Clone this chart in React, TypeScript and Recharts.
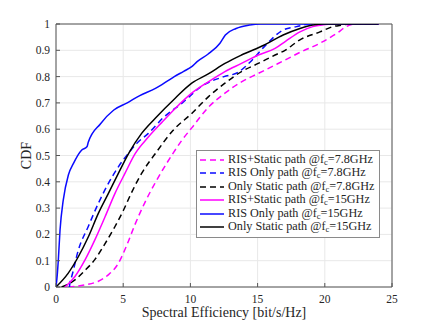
import React from 'react';
import { LineChart, Line, XAxis, YAxis, CartesianGrid, ReferenceArea, Legend } from 'recharts';

const xTicks = [0, 5, 10, 15, 20, 25];
const yTicks = [0, 0.1, 0.2, 0.3, 0.4, 0.5, 0.6, 0.7, 0.8, 0.9, 1];

// RIS+Static path @ 7.8GHz (magenta dashed)
const risStatic78X = [0.92, 2.16, 3.15, 3.89, 4.64, 5.26, 5.88, 6.62, 7.37, 8.11, 8.73, 9.35, 10.1, 11.33, 12.57, 13.8, 15.05, 16.3, 17.04, 18.15, 19.64, 20.9, 21.6, 22.3, 24];
const risStatic78Y = [0, 0.008, 0.022, 0.046, 0.09, 0.158, 0.238, 0.322, 0.395, 0.46, 0.51, 0.557, 0.605, 0.683, 0.737, 0.78, 0.812, 0.844, 0.863, 0.892, 0.927, 0.965, 0.99, 1, 1];

// RIS Only path @ 7.8GHz (blue dashed)
const risOnly78X = [1.0, 1.05, 1.17, 1.66, 2.4, 3.15, 3.9, 4.64, 5.38, 6.0, 6.87, 8.0, 9.4, 10.8, 12.5, 13.5, 14.6, 15.5, 16.9, 17.9, 18.9, 24];
const risOnly78Y = [0, 0.02, 0.04, 0.14, 0.23, 0.318, 0.394, 0.457, 0.508, 0.546, 0.584, 0.645, 0.7, 0.762, 0.8, 0.815, 0.863, 0.914, 0.977, 0.99, 1, 1];

// Only Static path @ 7.8GHz (black dashed)
const static78X = [0.42, 1.41, 2.16, 2.9, 3.65, 4.39, 5.0, 5.63, 6.37, 7.4, 8.7, 10.1, 11.33, 12.57, 13.8, 15.05, 16.3, 17.04, 18.15, 19.64, 20.6, 21.26, 21.8, 24];
const static78Y = [0, 0.027, 0.063, 0.105, 0.165, 0.23, 0.29, 0.36, 0.432, 0.508, 0.595, 0.66, 0.723, 0.775, 0.819, 0.85, 0.882, 0.9, 0.94, 0.97, 0.99, 0.996, 1, 1];

// RIS+Static path @ 15GHz (magenta solid)
const risStatic15X = [0.67, 1.41, 2.16, 2.9, 3.65, 4.39, 5.13, 5.9, 6.87, 7.86, 8.85, 10.1, 11.33, 12.57, 13.8, 15.05, 16.3, 17.1, 18.15, 19.1, 19.9, 20.5, 24];
const risStatic15Y = [0, 0.04, 0.103, 0.18, 0.267, 0.356, 0.432, 0.508, 0.57, 0.625, 0.678, 0.737, 0.78, 0.819, 0.85, 0.882, 0.907, 0.935, 0.97, 0.99, 0.997, 1, 1];

// RIS Only path @ 15GHz (blue solid)
const risOnly15X = [0, 0.1, 0.17, 0.3, 0.54, 0.92, 1.3, 1.9, 2.3, 2.4, 3.3, 4.3, 5.3, 6.2, 7.4, 8.4, 8.8, 9.5, 10.1, 10.5, 11.3, 12.2, 12.6, 13.4, 14.4, 15.2, 24];
const risOnly15Y = [0, 0.05, 0.1, 0.217, 0.33, 0.426, 0.47, 0.52, 0.533, 0.55, 0.62, 0.673, 0.7, 0.727, 0.755, 0.787, 0.8, 0.82, 0.838, 0.857, 0.885, 0.927, 0.958, 0.983, 0.996, 1, 1];

// Only Static path @ 15GHz (black solid)
const static15X = [0, 0.9, 1.66, 2.4, 3.15, 3.9, 4.64, 5.45, 6.37, 7.37, 8.85, 10.1, 11.33, 12.57, 13.8, 15.5, 16.9, 18.15, 19.1, 19.9, 24];
const static15Y = [0, 0.052, 0.115, 0.19, 0.28, 0.356, 0.432, 0.512, 0.584, 0.641, 0.717, 0.775, 0.81, 0.85, 0.882, 0.92, 0.958, 0.983, 0.996, 1, 1];

const seriesNames = ['RIS+Static path', 'RIS Only path', 'Only Static path', 'RIS+Static path', 'RIS Only path', 'Only Static path'];
const seriesFreqs = ['7.8GHz', '7.8GHz', '7.8GHz', '15GHz', '15GHz', '15GHz'];

const zip = (xs: number[], ys: number[]) => xs.map((x, i) => ({ x, y: ys[i] }));

const series = [
  { key: 'a', color: '#ff00ff', dash: '6 4', data: zip(risStatic78X, risStatic78Y) },
  { key: 'b', color: '#0a0aff', dash: '6 4', data: zip(risOnly78X, risOnly78Y) },
  { key: 'c', color: '#000000', dash: '6 4', data: zip(static78X, static78Y) },
  { key: 'd', color: '#ff00ff', dash: undefined, data: zip(risStatic15X, risStatic15Y) },
  { key: 'e', color: '#0a0aff', dash: undefined, data: zip(risOnly15X, risOnly15Y) },
  { key: 'f', color: '#000000', dash: undefined, data: zip(static15X, static15Y) },
].map((s, i) => ({ ...s, name: seriesNames[i], freq: seriesFreqs[i] }));

const FONT = '"Liberation Serif", "DejaVu Serif", serif';
const TXT = '#262626';

const LegendBox = () => (
  <div
    style={{
      border: '1px solid #8a8a8a',
      background: '#fff',
      padding: '2px 5px 3px 3px',
      fontFamily: FONT,
      fontSize: 12.2,
      color: TXT,
      lineHeight: '13.5px',
      whiteSpace: 'nowrap',
    }}
  >
    {series.map((s) => (
      <div key={s.key} style={{ display: 'flex', alignItems: 'center', height: 13.5 }}>
        <svg width={24} height={6} style={{ marginRight: 4 }}>
          <line x1={0} y1={3} x2={24} y2={3} stroke={s.color} strokeWidth={1.5} strokeDasharray={s.dash} />
        </svg>
        <span>
          {s.name} @f
          <span style={{ fontSize: 8.5, position: 'relative', top: 2 }}>c</span>={s.freq}
        </span>
      </div>
    ))}
  </div>
);

export default function App() {
  return (
    <div style={{ position: 'absolute', left: 0, top: 0, width: 432, height: 324, background: '#fff' }}>
      <LineChart
        width={432}
        height={324}
        margin={{ top: 23, right: 39, left: 0, bottom: 0 }}
        style={{ fontFamily: FONT }}
      >
        <CartesianGrid stroke="#e8e8e8" strokeWidth={1} />
        <XAxis
          xAxisId={0}
          type="number"
          dataKey="x"
          domain={[0, 25]}
          ticks={xTicks}
          interval={0}
          allowDataOverflow
          height={37}
          axisLine={false}
          tickSize={-4}
          tickMargin={12}
          tickLine={{ stroke: '#555' }}
          tick={{ fill: TXT, fontSize: 11.5, fontFamily: FONT }}
          label={{
            content: (p: any) => {
              const vb = p.viewBox;
              return (
                <text x={vb.x + vb.width / 2} y={317} textAnchor="middle" fill={TXT} fontSize={14} fontFamily={FONT}>
                  Spectral Efficiency [bit/s/Hz]
                </text>
              );
            },
          }}
        />
        <XAxis
          xAxisId="top"
          orientation="top"
          type="number"
          domain={[0, 25]}
          ticks={xTicks}
          interval={0}
          allowDataOverflow
          height={1}
          axisLine={false}
          tickSize={-4}
          tick={false}
          tickLine={{ stroke: '#555' }}
        />
        <YAxis
          yAxisId={0}
          type="number"
          domain={[0, 1]}
          ticks={yTicks}
          interval={0}
          allowDataOverflow
          width={56}
          axisLine={false}
          tickSize={-4}
          tickMargin={10}
          tickLine={{ stroke: '#555' }}
          tick={{ fill: TXT, fontSize: 11.5, fontFamily: FONT }}
          label={{
            content: (p: any) => {
              const vb = p.viewBox;
              const cx = 26;
              const cy = vb.y + vb.height / 2;
              return (
                <text
                  x={cx}
                  y={cy}
                  textAnchor="middle"
                  dominantBaseline="central"
                  transform={`rotate(-90 ${cx} ${cy})`}
                  fill={TXT}
                  fontSize={14}
                  fontFamily={FONT}
                >
                  CDF
                </text>
              );
            },
          }}
        />
        <YAxis
          yAxisId="right"
          orientation="right"
          type="number"
          domain={[0, 1]}
          ticks={yTicks}
          interval={0}
          allowDataOverflow
          width={1}
          axisLine={false}
          tickSize={-4}
          tick={false}
          tickLine={{ stroke: '#555' }}
        />
        {series.map((s) => (
          <Line
            key={s.key}
            data={s.data}
            dataKey="y"
            name={`${s.name} @fc=${s.freq}`}
            type="monotone"
            stroke={s.color}
            strokeWidth={1.5}
            strokeDasharray={s.dash}
            dot={false}
            activeDot={false}
            isAnimationActive={false}
          />
        ))}
        <ReferenceArea x1={0} x2={25} y1={0} y2={1} fill="none" stroke="#555" strokeWidth={1} ifOverflow="visible" />
        <Legend
          layout="vertical"
          align="center"
          verticalAlign="middle"
          wrapperStyle={{ left: 196, top: 150, width: 'auto' }}
          content={() => <LegendBox />}
        />
      </LineChart>
    </div>
  );
}
